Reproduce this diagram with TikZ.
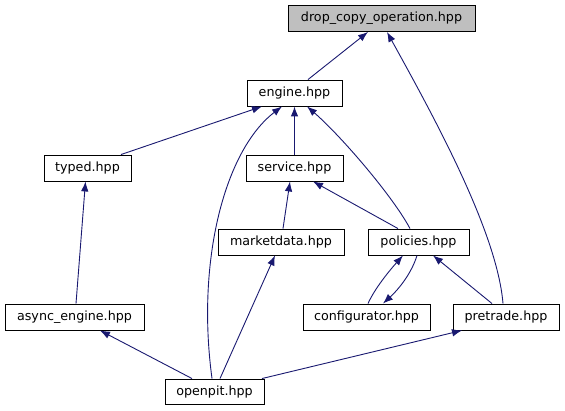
\documentclass[tikz,border=0pt]{standalone}
\usepackage{fontspec}
\setmainfont{DejaVu Sans}
\usetikzlibrary{arrows.meta}
\definecolor{edgeblue}{RGB}{25,25,112}
\definecolor{rootgray}{RGB}{191,191,191}

\begin{document}
\begin{tikzpicture}[x=1pt, y=-1pt,
file/.style={draw=black, line width=0.9pt, fill=white, inner sep=0pt,
  minimum height=26pt, font=\fontsize{12.7}{14}\selectfont},
dep/.style={{Latex[length=10pt,width=7.5pt]}-, draw=edgeblue, line width=0.9pt},
]
\useasboundingbox (0,0) rectangle (565,411);

% files
\node[file, fill=rootgray, minimum width=187pt] (drop) at (381.5,18.5) {drop\_copy\_operation.hpp};
\node[file, minimum width=95pt] (engine) at (294.5,93) {engine.hpp};
\node[file, minimum width=87pt] (typed) at (87.5,168) {typed.hpp};
\node[file, minimum width=97pt] (service) at (294.5,168) {service.hpp};
\node[file, minimum width=126pt] (marketdata) at (281,242) {marketdata.hpp};
\node[file, minimum width=101pt] (policies) at (418.5,242) {policies.hpp};
\node[file, minimum width=139pt] (async) at (74.5,317) {async\_engine.hpp};
\node[file, minimum width=127pt] (configurator) at (366.5,317) {configurator.hpp};
\node[file, minimum width=106pt] (pretrade) at (506,317) {pretrade.hpp};
\node[file, minimum width=99pt, minimum height=25pt] (openpit) at (214.5,391.5) {openpit.hpp};

% includes
\draw[dep] ([xshift=-13.5pt]drop.south) -- ([xshift=13.5pt]engine.north);
\draw[dep] ([xshift=5.5pt]drop.south) .. controls (430,110) and (497,230) .. ([xshift=-3pt]pretrade.north);
\draw[dep] ([xshift=-32.5pt]engine.south) -- ([xshift=33.5pt]typed.north);
\draw[dep] (engine.south) -- (service.north);
\draw[dep] ([xshift=-12.5pt]engine.south) .. controls (225,150) and (196,260) .. ([xshift=-2.5pt]openpit.north);
\draw[dep] ([xshift=12.5pt]engine.south) .. controls (340,135) and (392,195) .. ([xshift=-8.5pt]policies.north);
\draw[dep] ([xshift=-2pt]typed.south) -- ([xshift=1.5pt]async.north);
\draw[dep] ([xshift=-4.5pt]service.south) -- ([xshift=2pt]marketdata.north);
\draw[dep] ([xshift=18.5pt]service.south) -- ([xshift=-20.5pt]policies.north);
\draw[dep] ([xshift=-6pt]marketdata.south) -- ([xshift=5.5pt]openpit.north);
\draw[dep] ([xshift=-15.5pt]policies.south) .. controls (390,270) and (375,288) .. ([xshift=1.5pt]configurator.north);
\draw[dep] ([xshift=16.5pt]configurator.north) .. controls (400,288) and (412,272) .. ([xshift=-1.5pt]policies.south);
\draw[dep] ([xshift=14.5pt]policies.south) -- ([xshift=-14pt]pretrade.north);
\draw[dep] ([xshift=25.5pt]async.south) -- ([xshift=-22.5pt]openpit.north);
\draw[dep] ([xshift=-44pt]pretrade.south) -- ([xshift=47.5pt]openpit.north);

\end{tikzpicture}
\end{document}
